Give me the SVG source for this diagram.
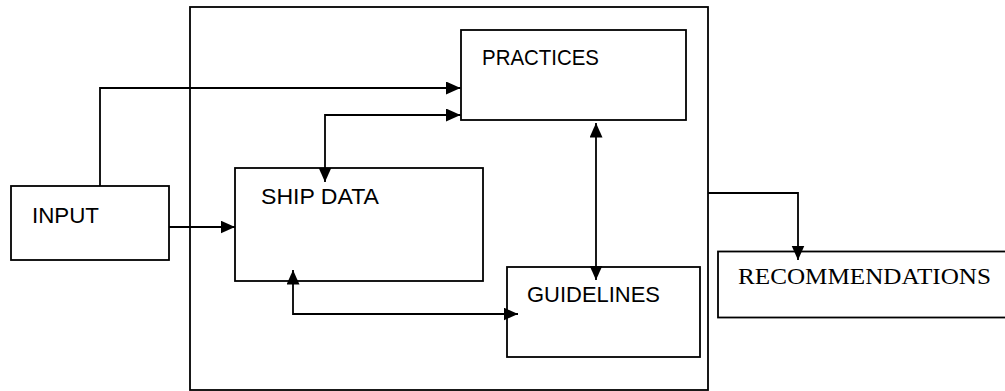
<svg xmlns="http://www.w3.org/2000/svg" width="1005" height="391" viewBox="0 0 1005 391">
  <style>
    .box { fill: #ffffff; stroke: #000000; stroke-width: 1.8; }
    .frame { fill: none; stroke: #000000; stroke-width: 1.8; }
    .wire { fill: none; stroke: #000000; stroke-width: 1.8; }
    .lbl { font-family: "Liberation Sans", Arial, sans-serif; font-size: 22px; fill: #000000; }
    .lbl-serif { font-family: "Liberation Serif", "Times New Roman", serif; font-size: 24px; fill: #000000; }
  </style>
  <defs>
    <marker id="arrow" markerUnits="userSpaceOnUse" markerWidth="15" markerHeight="14" refX="14.5" refY="6.5" orient="auto-start-reverse">
      <path d="M0,0 L14.5,6.5 L0,13 z" fill="#000000"/>
    </marker>
  </defs>

  <rect width="1005" height="391" fill="#ffffff"/>

  <!-- enclosing system boundary -->
  <g id="system">
    <rect class="frame" x="190" y="7" width="518" height="383"/>
  </g>

  <g id="practices">
    <rect class="box" x="461" y="30" width="225" height="90"/>
    <text class="lbl" x="482" y="65" textLength="117" lengthAdjust="spacingAndGlyphs">PRACTICES</text>
  </g>

  <g id="ship-data">
    <rect class="box" x="235" y="168" width="248" height="113"/>
    <text class="lbl" x="261" y="204" textLength="118" lengthAdjust="spacingAndGlyphs">SHIP DATA</text>
  </g>

  <g id="input">
    <rect class="box" x="11" y="186" width="158" height="74"/>
    <text class="lbl" x="32" y="223" textLength="67" lengthAdjust="spacingAndGlyphs">INPUT</text>
  </g>

  <g id="guidelines">
    <rect class="box" x="507" y="267" width="193" height="90"/>
    <text class="lbl" x="527" y="302" textLength="133" lengthAdjust="spacingAndGlyphs">GUIDELINES</text>
  </g>

  <g id="recommendations">
    <rect class="box" x="718" y="251.5" width="300" height="66"/>
    <text class="lbl-serif" x="738" y="284" textLength="253" lengthAdjust="spacingAndGlyphs">RECOMMENDATIONS</text>
  </g>

  <g id="connectors">
    <path class="wire" d="M100,186 V88 H460.5" marker-end="url(#arrow)"/>
    <path class="wire" d="M325,182 V115 H460.5" marker-start="url(#arrow)" marker-end="url(#arrow)"/>
    <path class="wire" d="M169,227 H235" marker-end="url(#arrow)"/>
    <path class="wire" d="M293,270 V314 H518" marker-start="url(#arrow)" marker-end="url(#arrow)"/>
    <path class="wire" d="M596,123 V280" marker-start="url(#arrow)" marker-end="url(#arrow)"/>
    <path class="wire" d="M708,193 H798 V260" marker-end="url(#arrow)"/>
  </g>
</svg>
